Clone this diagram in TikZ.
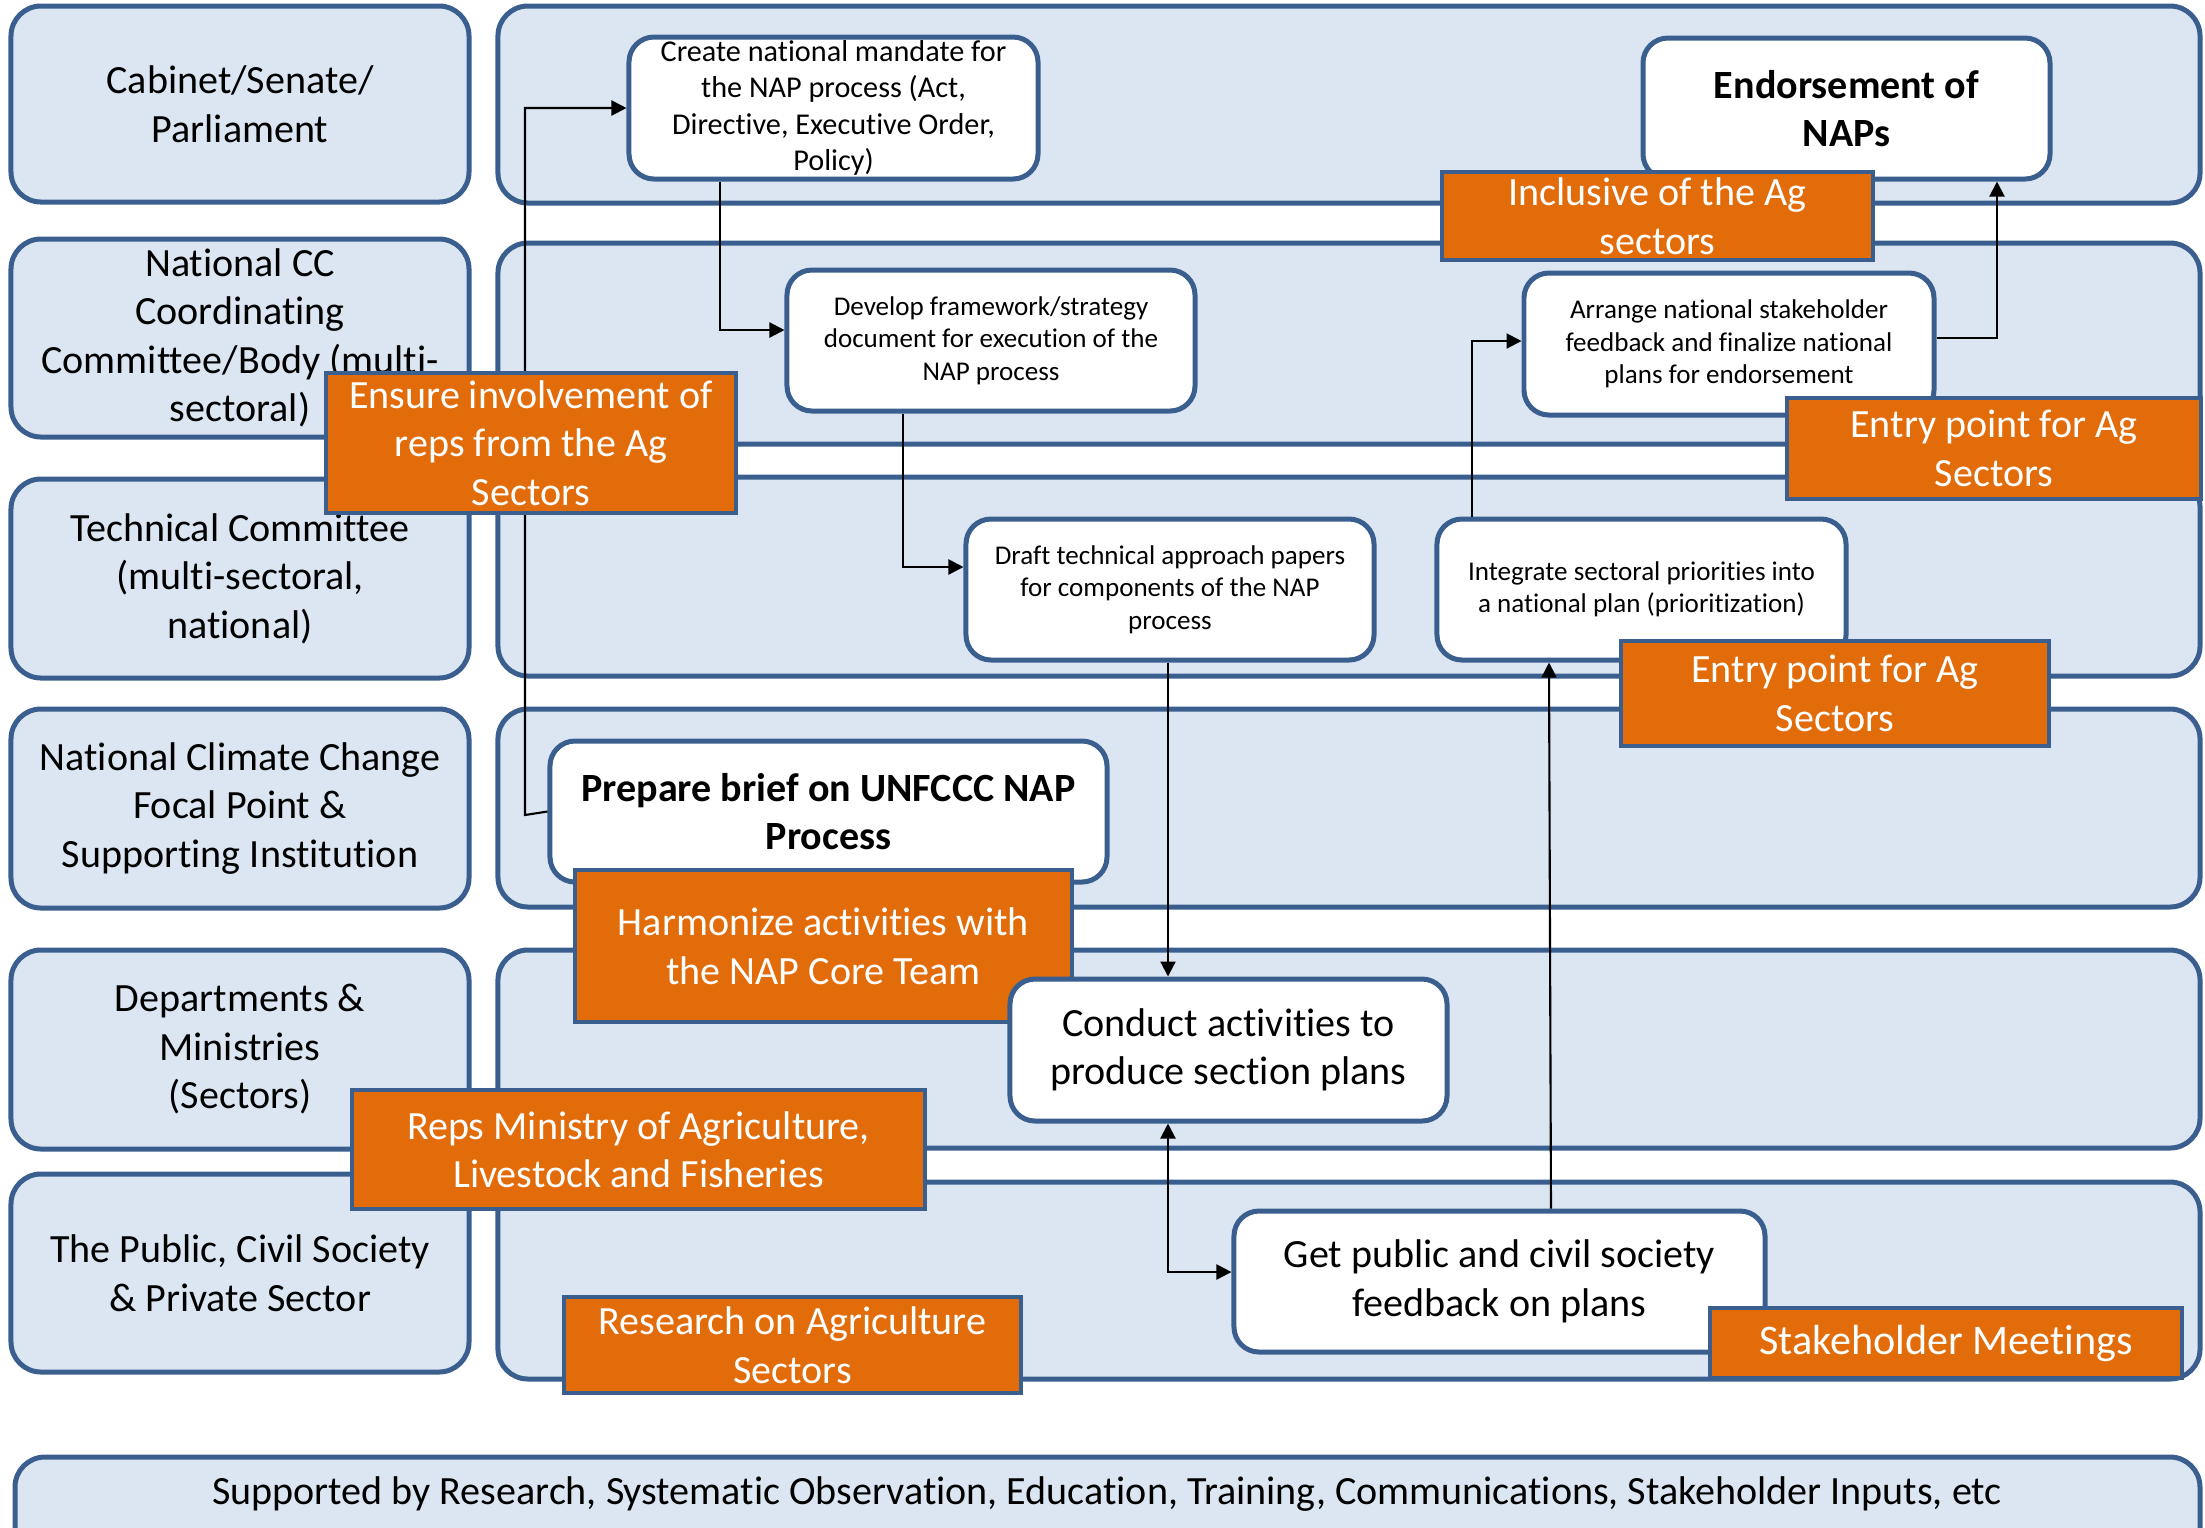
\documentclass[tikz,border=0pt]{standalone}
\usepackage{fontspec}
\setmainfont{Carlito}[Ligatures=NoCommon]
\usetikzlibrary{arrows.meta,calc}

\definecolor{lanefill}{RGB}{220,230,242}
\definecolor{edgeblue}{RGB}{58,95,143}
\definecolor{agorange}{RGB}{227,108,10}

% box from corner (x1,y1) to (x2,y2), in pixel units of the picture
\newcommand\pbox[7]{%
  \pgfmathsetmacro\pbW{(#5-#3)*0.1}%
  \pgfmathsetmacro\pbH{(#6-#4)*0.1}%
  \node[#2, minimum width=\pbW mm, minimum height=\pbH mm, inner sep=0pt]
    (#1) at ({(#3+#5)/2},{(#4+#6)/2}) {#7};}

\newcommand\bigtxt{\fontsize{11.4}{13.8}\selectfont}
\newcommand\midtxt{\fontsize{8.6}{10.4}\selectfont}
\newcommand\smalltxt{\fontsize{7.7}{9.2}\selectfont}

\begin{document}
\begin{tikzpicture}[x=0.1mm, y=-0.1mm,
  lane/.style={draw=edgeblue, fill=lanefill, line width=0.5mm, rounded corners=3mm},
  rolebox/.style={lane, align=center, font=\bigtxt},
  stepbox/.style={draw=edgeblue, fill=white, line width=0.5mm, rounded corners=2.5mm, align=center},
  agbox/.style={draw=edgeblue, fill=agorange, line width=0.45mm, text=white, align=center, font=\bigtxt},
  conn/.style={draw=black, line width=0.6pt, -{Triangle[length=1.5mm,width=1.5mm]}}]
\useasboundingbox (0,0) rectangle (2205,1527);

% swim lanes
\pbox{lane1}{lane}{498}{6}{2200}{203}{}
\pbox{lane2}{lane}{498}{243}{2200}{444}{}
\pbox{lane3}{lane}{498}{477}{2200}{676}{}
\pbox{lane4}{lane}{498}{709}{2200}{907}{}
\pbox{lane5}{lane}{498}{950}{2200}{1148}{}
\pbox{lane6}{lane}{498}{1182}{2200}{1379}{}

% actors
\pbox{cabinet}{rolebox}{11}{6}{469}{202}{Cabinet/Senate/\\Parliament}
\pbox{nccc}{rolebox}{11}{239}{469}{437}{National CC\\Coordinating\\Committee/Body (multi-\\sectoral)}
\pbox{techcom}{rolebox}{11}{479}{469}{678}{Technical Committee\\(multi-sectoral,\\national)}
\pbox{focal}{rolebox}{11}{709}{469}{908}{National Climate Change\\Focal Point \&\\Supporting Institution}
\pbox{depts}{rolebox}{11}{950}{469}{1149}{Departments \&\\Ministries\\(Sectors)}
\pbox{public}{rolebox}{11}{1174}{469}{1372}{The Public, Civil Society\\\& Private Sector}

% supporting band along the bottom
\path[lane] (15,1457) rectangle (2200,1600);
\node[font=\bigtxt] (support) at (1107,1494) {Supported by Research, Systematic Observation, Education, Training, Communications, Stakeholder Inputs, etc};

% process steps
\pbox{mandate}{stepbox, font=\midtxt}{629}{37}{1038}{179}{Create national mandate for\\the NAP process (Act,\\Directive, Executive Order,\\Policy)}
\pbox{endorse}{stepbox, font=\bigtxt\bfseries}{1643}{38}{2050}{179}{Endorsement of\\NAPs}
\pbox{develop}{stepbox, font=\smalltxt}{787}{270}{1195}{411}{Develop framework/strategy\\document for execution of the\\NAP process}
\pbox{arrange}{stepbox, font=\smalltxt}{1524}{273}{1934}{415}{Arrange national stakeholder\\feedback and finalize national\\plans for endorsement}
\pbox{draft}{stepbox, font=\smalltxt}{966}{519}{1374}{660}{Draft technical approach papers\\for components of the NAP\\process}
\pbox{integrate}{stepbox, font=\smalltxt}{1437}{519}{1846}{660}{Integrate sectoral priorities into\\a national plan (prioritization)}
\pbox{prepare}{stepbox, font=\bigtxt\bfseries}{550}{741}{1107}{882}{Prepare brief on UNFCCC NAP\\Process}
\pbox{getpub}{stepbox, font=\bigtxt}{1234}{1211}{1765}{1352}{Get public and civil society\\feedback on plans}

% agriculture entry points
\pbox{inclusive}{agbox}{1442}{172}{1873}{260}{Inclusive of the Ag\\sectors}
\pbox{entryA}{agbox}{1787}{398}{2201}{499}{Entry point for Ag\\Sectors}
\pbox{entryB}{agbox}{1621}{641}{2049}{746}{Entry point for Ag\\Sectors}
\pbox{harmon}{agbox}{575}{870}{1072}{1022}{Harmonize activities with\\the NAP Core Team}
\pbox{reps}{agbox}{352}{1090}{925}{1209}{Reps Ministry of Agriculture,\\Livestock and Fisheries}
\pbox{research}{agbox}{564}{1297}{1021}{1393}{Research on Agriculture\\Sectors}
\pbox{stake}{agbox, font=\fontsize{12}{14}\selectfont}{1710}{1308}{2182}{1378}{Stakeholder Meetings}

\pbox{conduct}{stepbox, font=\bigtxt}{1010}{979}{1447}{1121}{Conduct activities to\\produce section plans}

% flow
\coordinate (kink) at (525,815);
\draw[conn] (prepare.west) -- (kink) |- (mandate.west);
\draw[conn] (mandate.south -| 720,0) |- (develop.west |- 0,330);
\draw[conn] (develop.south -| 903,0) |- (draft.west |- 0,567);
\draw[conn] (draft.south -| 1168,0) -- (conduct.north -| 1168,0);
\draw[conn, {Triangle[length=1.5mm,width=1.5mm]}-{Triangle[length=1.5mm,width=1.5mm]}]
  (conduct.south -| 1168,0) |- (getpub.west |- 0,1272);
\draw[conn] (getpub.north -| 1551,0) -- (integrate.south -| 1549,0);
\draw[conn] (integrate.north -| 1472,0) |- (arrange.west |- 0,341);
\draw[conn] (arrange.east |- 0,338) -| (endorse.south -| 1997,0);

\pbox{ensure}{agbox}{326}{373}{736}{513}{Ensure involvement of\\reps from the Ag\\Sectors}
\end{tikzpicture}
\end{document}
